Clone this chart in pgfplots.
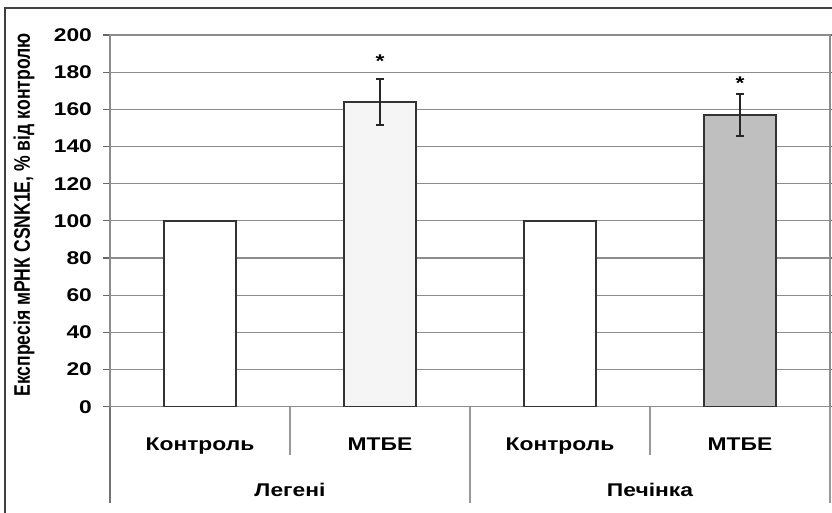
\documentclass[border=0pt]{standalone}
\usepackage{pgfplots}
\pgfplotsset{compat=1.18}
\usepackage{fontspec}
\setmainfont{Liberation Sans}
\newfontfamily\wide{Liberation Sans}[FakeStretch=1.24]
\newcommand{\lbl}{\wide\fontsize{9.2}{11}\selectfont\bfseries}

\begin{document}
\begin{tikzpicture}
\useasboundingbox (0,0) rectangle (416pt,256.5pt);
\draw[line width=0.9pt, black!75] (2.5pt,0) -- (2.5pt,252.5pt) -- (416pt,252.5pt);
\node[rotate=90, font=\fontsize{8.8}{11}\selectfont\bfseries] at (12pt,149pt) {\scalebox{1}[1.28]{Експресія мРНК CSNK1E, \% від контролю}};
\begin{axis}[
 at={(55pt,53.15pt)}, anchor=south west,
 scale only axis, width=360pt, height=185.85pt,
 xmin=-0.5, xmax=3.5, ymin=0, ymax=200,
 ytick={0,20,...,200},
 xtick=\empty,
 ymajorgrids, grid style={black!45, line width=0.6pt},
 axis line style={black!45, line width=0.6pt},
 y tick style={black!60, line width=0.6pt},
 tick align=outside, major tick length=3.5pt,
 yticklabel style={font=\lbl, xshift=-2pt},
 /pgf/number format/assume math mode=true,
 clip=false,
 ybar, bar width=0.4, bar shift=0pt,
 every axis plot/.append style={draw=black!80, line width=0.8pt},
 error bars/error mark=-,
 error bars/error mark options={rotate=90, line width=0.9pt, mark size=2pt, black!85},
 error bars/error bar style={line width=0.9pt, black!85},
]
\addplot[fill=white] coordinates {(0,100) (2,100)};
\addplot[fill=black!4, error bars/.cd, y dir=both, y explicit]
  coordinates {(1,164) +- (0,12.5)};
\addplot[fill=black!25, error bars/.cd, y dir=both, y explicit]
  coordinates {(3,157) +- (0,11.3)};
\node[font=\lbl] at (axis cs:1,186) {*};
\node[font=\lbl] at (axis cs:3,174) {*};
\draw[black!55, line width=0.6pt] (axis cs:-0.5,0) -- ([yshift=-48.15pt]axis cs:-0.5,0);
\draw[black!40, line width=0.6pt] (axis cs:1.5,0) -- ([yshift=-48.15pt]axis cs:1.5,0);
\draw[black!40, line width=0.6pt] (axis cs:3.5,0) -- ([yshift=-48.15pt]axis cs:3.5,0);
\draw[black!40, line width=0.6pt] (axis cs:0.5,0) -- ([yshift=-24.15pt]axis cs:0.5,0);
\draw[black!40, line width=0.6pt] (axis cs:2.5,0) -- ([yshift=-24.15pt]axis cs:2.5,0);
\node[font=\lbl, anchor=base] at ([yshift=-21.8pt]axis cs:0,0) {Контроль};
\node[font=\lbl, anchor=base] at ([yshift=-21.8pt]axis cs:1,0) {МТБЕ};
\node[font=\lbl, anchor=base] at ([yshift=-21.8pt]axis cs:2,0) {Контроль};
\node[font=\lbl, anchor=base] at ([yshift=-21.8pt]axis cs:3,0) {МТБЕ};
\node[font=\lbl, anchor=base] at ([yshift=-44.8pt]axis cs:0.5,0) {Легені};
\node[font=\lbl, anchor=base] at ([yshift=-44.8pt]axis cs:2.5,0) {Печінка};
\end{axis}
\end{tikzpicture}
\end{document}
